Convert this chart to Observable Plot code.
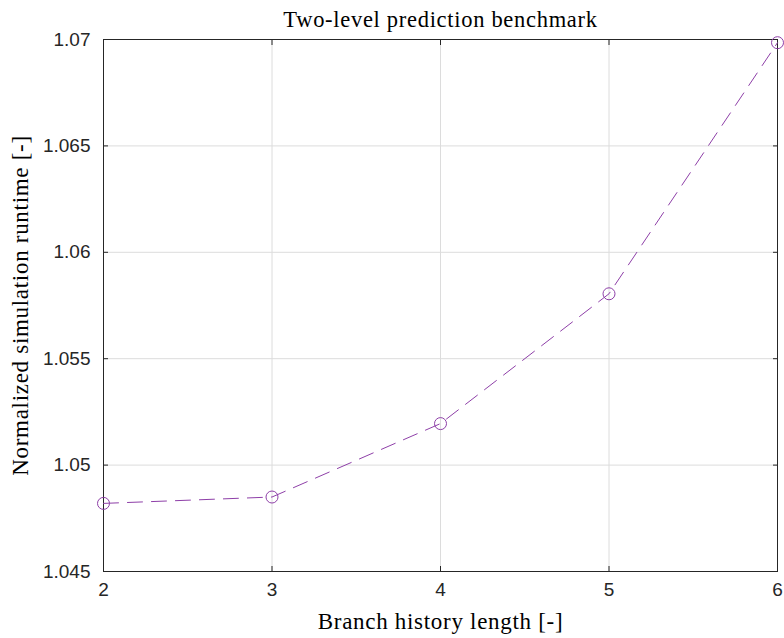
<!DOCTYPE html>
<html>
<head>
<meta charset="utf-8">
<script src="https://cdn.jsdelivr.net/npm/d3@7"></script>
<script src="https://cdn.jsdelivr.net/npm/@observablehq/plot@0.6"></script>
<style>
  html, body { margin: 0; padding: 0; background: #fff; }
  .serif-label { letter-spacing: 0.7px; }
</style>
</head>
<body>
<div id="chart"></div>
<script>
const historyLength = [2, 3, 4, 5, 6];
const runtime = [1.0482, 1.0485, 1.05195, 1.05805, 1.06985];
const xTicks = [2, 3, 4, 5, 6];
const yTicks = [1.045, 1.05, 1.055, 1.06, 1.065, 1.07];
const titleText = "Two-level prediction benchmark";
const xLabel = "Branch history length [-]";
const yLabel = "Normalized simulation runtime [-]";

const data = historyLength.map((x, i) => ({x, y: runtime[i]}));
const purple = "#8e3fa8";
const axisColor = "#262626";
const serif = "'Liberation Serif', 'Times New Roman', serif";
const fmt = d => String(+d.toFixed(3));

const chart = Plot.plot({
  width: 784,
  height: 638,
  marginTop: 39,
  marginBottom: 67,
  marginLeft: 103,
  marginRight: 7,
  style: {fontFamily: "'Liberation Sans', Arial, sans-serif", fontSize: "19px", color: axisColor, background: "#fff"},
  x: {domain: [2, 6], ticks: xTicks},
  y: {domain: [1.045, 1.07], ticks: yTicks},
  marks: [
    Plot.gridX(xTicks, {stroke: "#dcdcdc", strokeOpacity: 1}),
    Plot.gridY(yTicks, {stroke: "#dcdcdc", strokeOpacity: 1}),
    Plot.axisX(xTicks, {anchor: "bottom", tickSize: -5, tickPadding: 16, stroke: axisColor, fill: axisColor, tickFormat: fmt, label: null, fontSize: 19}),
    Plot.axisX(xTicks, {anchor: "top", tickSize: -5, text: null, stroke: axisColor, label: null}),
    Plot.axisY(yTicks, {anchor: "left", tickSize: -5, tickPadding: 18, stroke: axisColor, fill: axisColor, tickFormat: fmt, label: null, fontSize: 19}),
    Plot.axisY(yTicks, {anchor: "right", tickSize: -5, text: null, stroke: axisColor, label: null}),
    Plot.frame({stroke: axisColor, strokeWidth: 1}),
    Plot.line(data, {x: "x", y: "y", stroke: purple, strokeWidth: 1, strokeDasharray: "15,9"}),
    Plot.dot(data, {x: "x", y: "y", r: 6, stroke: purple, strokeWidth: 1, fill: "none"}),
    Plot.text([titleText], {frameAnchor: "top", dy: -13, fontFamily: serif, fontSize: 22.5, fill: "#000", lineAnchor: "bottom", className: "serif-label"}),
    Plot.text([xLabel], {frameAnchor: "bottom", dy: 57, fontFamily: serif, fontSize: 23, fill: "#000", lineAnchor: "bottom", className: "serif-label"}),
    Plot.text([yLabel], {frameAnchor: "left", dx: -83, rotate: -90, fontFamily: serif, fontSize: 23, fill: "#000", lineAnchor: "middle", textAnchor: "middle", className: "serif-label"})
  ]
});
document.getElementById("chart").appendChild(chart);
</script>
</body>
</html>
